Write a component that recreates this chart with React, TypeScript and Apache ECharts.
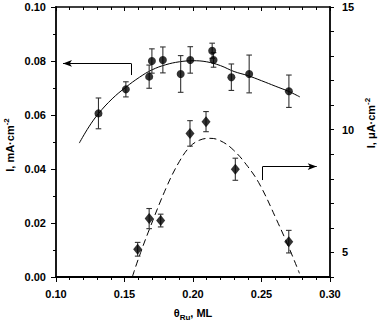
import React, { useEffect, useRef } from "react";
import * as echarts from "echarts";

// Upper series (left axis, mA/cm2): [theta, I, error]
const upperPoints: number[][] = [
  [0.131, 0.0606, 0.0057],
  [0.151, 0.0695, 0.0028],
  [0.168, 0.0742, 0.0043],
  [0.170, 0.0800, 0.0045],
  [0.178, 0.0804, 0.0048],
  [0.191, 0.0752, 0.0068],
  [0.198, 0.0804, 0.0049],
  [0.214, 0.0838, 0.0028],
  [0.215, 0.0804, 0.0027],
  [0.228, 0.0740, 0.0049],
  [0.241, 0.0752, 0.0070],
  [0.270, 0.0688, 0.0060],
];

// Upper fitted curve
const upperFit: number[][] = [
  [0.117, 0.0496], [0.124, 0.0556], [0.131, 0.0605], [0.141, 0.0660],
  [0.151, 0.0703], [0.161, 0.0740], [0.170, 0.0767], [0.180, 0.0786],
  [0.190, 0.0797], [0.200, 0.0801], [0.210, 0.0797], [0.220, 0.0783],
  [0.230, 0.0761], [0.240, 0.0746], [0.250, 0.0727], [0.260, 0.0707],
  [0.270, 0.0687], [0.278, 0.0667],
];

// Lower series (right axis, uA/cm2): [theta, I, error]
const lowerPoints: number[][] = [
  [0.1596, 5.13, 0.28],
  [0.168, 6.38, 0.41],
  [0.1764, 6.30, 0.26],
  [0.1978, 9.85, 0.52],
  [0.2095, 10.33, 0.41],
  [0.2309, 8.39, 0.45],
  [0.2699, 5.44, 0.46],
];

// Lower dashed fitted curve
const lowerFit: number[][] = [
  [0.1557, 4.0], [0.160, 4.72], [0.168, 5.92], [0.1808, 7.68],
  [0.190, 8.70], [0.1978, 9.31], [0.205, 9.58], [0.2124, 9.65],
  [0.220, 9.55], [0.2294, 9.18], [0.240, 8.50], [0.2489, 7.75],
  [0.2611, 6.32], [0.270, 5.20], [0.2777, 4.15],
];

// Arrow annotations (data coordinates)
const leftArrow = { x0: 0.1547, yDrop: 0.0748, y: 0.0791, xTip: 0.1051 };
const rightArrow = { x0: 0.2509, yDrop: 7.95, y: 8.5, xTip: 0.2903 };

const xTicks = { min: 0.1, max: 0.3, interval: 0.05 };
const leftTicks = { min: 0, max: 0.1, interval: 0.02 };
const rightTicks = { min: 4, max: 15, interval: 1, labeled: [5, 10, 15] };

const FONT = "'Liberation Sans', Arial, sans-serif";

function errorBarSeries(data: number[][], yAxisIndex: number) {
  return {
    type: "custom",
    xAxisIndex: 0,
    yAxisIndex,
    data,
    z: 2,
    silent: true,
    encode: { x: 0, y: 1 },
    renderItem: (_params: any, api: any) => {
      const x = api.value(0);
      const y = api.value(1);
      const e = api.value(2);
      const top = api.coord([x, y + e]);
      const bot = api.coord([x, y - e]);
      const hw = 2.8;
      const style = { stroke: "#333", lineWidth: 1.1 };
      return {
        type: "group",
        children: [
          { type: "line", shape: { x1: top[0], y1: top[1], x2: bot[0], y2: bot[1] }, style },
          { type: "line", shape: { x1: top[0] - hw, y1: top[1], x2: top[0] + hw, y2: top[1] }, style },
          { type: "line", shape: { x1: bot[0] - hw, y1: bot[1], x2: bot[0] + hw, y2: bot[1] }, style },
        ],
      };
    },
  };
}

export default function App() {
  const ref = useRef<HTMLDivElement>(null);
  useEffect(() => {
    document.body.style.margin = "0";
    const chart = echarts.init(ref.current!, null, { renderer: "svg" });
    const axisLineStyle = { color: "#000", width: 1.8 };
    const labelStyle = { color: "#000", fontFamily: FONT, fontWeight: "bold", fontSize: 11 };
    const nameRich = {
      m: { fontFamily: FONT, fontWeight: "bold", fontSize: 11, lineHeight: 16, verticalAlign: "middle", fill: "#000" },
      sup: { fontFamily: FONT, fontWeight: "bold", fontSize: 8, lineHeight: 8, verticalAlign: "top", fill: "#000" },
      sub: { fontFamily: FONT, fontWeight: "bold", fontSize: 8, lineHeight: 8, verticalAlign: "bottom", fill: "#000" },
    };
    chart.setOption({
      animation: false,
      backgroundColor: "#fff",
      grid: { left: 56, right: 50, top: 7, bottom: 47, containLabel: false },
      xAxis: [
        {
          type: "value",
          position: "bottom",
          min: xTicks.min,
          max: xTicks.max,
          interval: xTicks.interval,
          axisLine: { lineStyle: axisLineStyle },
          axisTick: { inside: false, length: 5, lineStyle: { color: "#000", width: 1 } },
          minorTick: { show: true, splitNumber: 5, length: 3, lineStyle: { color: "#000", width: 1 } },
          axisLabel: { ...labelStyle, margin: 11, formatter: (v: number) => v.toFixed(2) },
          splitLine: { show: false },
        },
        {
          type: "value",
          position: "top",
          min: xTicks.min,
          max: xTicks.max,
          interval: xTicks.interval,
          axisLine: { lineStyle: { color: "#000", width: 1.5 } },
          axisTick: { inside: true, length: 4, lineStyle: { color: "#000", width: 1 } },
          minorTick: { show: true, splitNumber: 5, length: 3, lineStyle: { color: "#000", width: 1 } },
          axisLabel: { show: false },
          splitLine: { show: false },
        },
      ],
      yAxis: [
        {
          type: "value",
          position: "left",
          min: leftTicks.min,
          max: leftTicks.max,
          interval: leftTicks.interval,
          axisLine: { show: true, lineStyle: axisLineStyle },
          axisTick: { show: true, inside: false, length: 5, lineStyle: { color: "#000", width: 1 } },
          minorTick: { show: true, splitNumber: 2, length: 3, lineStyle: { color: "#000", width: 1 } },
          axisLabel: { ...labelStyle, margin: 10, formatter: (v: number) => v.toFixed(2) },
          splitLine: { show: false },
        },
        {
          type: "value",
          position: "right",
          min: rightTicks.min,
          max: rightTicks.max,
          interval: rightTicks.interval,
          axisLine: { show: true, lineStyle: axisLineStyle },
          axisTick: { show: true, inside: false, length: 4, lineStyle: { color: "#000", width: 1 } },
          axisLabel: {
            ...labelStyle,
            margin: 12,
            formatter: (v: number) => (rightTicks.labeled.includes(Math.round(v)) ? String(Math.round(v)) : ""),
          },
          splitLine: { show: false },
        },
      ],
      series: [
        {
          type: "line",
          xAxisIndex: 0,
          yAxisIndex: 0,
          data: upperFit,
          smooth: 0.4,
          showSymbol: false,
          symbol: "none",
          lineStyle: { color: "#000", width: 1 },
          z: 1,
          silent: true,
          markLine: {
            silent: true,
            animation: false,
            label: { show: false },
            lineStyle: { color: "#000", width: 1, type: "solid" },
            symbol: ["none", "none"],
            data: [
              [
                { coord: [leftArrow.x0, leftArrow.yDrop], symbol: "none" },
                { coord: [leftArrow.x0, leftArrow.y], symbol: "none" },
              ],
              [
                { coord: [leftArrow.x0, leftArrow.y], symbol: "none" },
                { coord: [leftArrow.xTip, leftArrow.y], symbol: "arrow", symbolSize: [5, 9] },
              ],
            ],
          },
        },
        errorBarSeries(upperPoints, 0),
        {
          type: "scatter",
          xAxisIndex: 0,
          yAxisIndex: 0,
          data: upperPoints.map((p) => [p[0], p[1]]),
          symbol: "circle",
          symbolSize: 8,
          itemStyle: { color: "#000" },
          z: 3,
          silent: true,
        },
        {
          type: "line",
          xAxisIndex: 0,
          yAxisIndex: 1,
          data: lowerFit,
          smooth: 0.4,
          showSymbol: false,
          symbol: "none",
          lineStyle: { color: "#000", width: 1, type: [7, 4] },
          z: 1,
          silent: true,
          markLine: {
            silent: true,
            animation: false,
            label: { show: false },
            lineStyle: { color: "#000", width: 1, type: "solid" },
            symbol: ["none", "none"],
            data: [
              [
                { coord: [rightArrow.x0, rightArrow.yDrop], symbol: "none" },
                { coord: [rightArrow.x0, rightArrow.y], symbol: "none" },
              ],
              [
                { coord: [rightArrow.x0, rightArrow.y], symbol: "none" },
                { coord: [rightArrow.xTip, rightArrow.y], symbol: "arrow", symbolSize: [5, 9] },
              ],
            ],
          },
        },
        errorBarSeries(lowerPoints, 1),
        {
          type: "scatter",
          xAxisIndex: 0,
          yAxisIndex: 1,
          data: lowerPoints.map((p) => [p[0], p[1]]),
          symbol: "diamond",
          symbolSize: [9, 11],
          itemStyle: { color: "#000" },
          z: 3,
          silent: true,
        },
      ],
      graphic: [
        {
          type: "text",
          x: 10,
          y: 145,
          rotation: Math.PI / 2,
          style: {
            text: "{m|I, mA·cm}{sup|-2}",
            rich: nameRich,
            align: "center",
            verticalAlign: "middle",
          },
        },
        {
          type: "text",
          x: 371,
          y: 123,
          rotation: Math.PI / 2,
          style: {
            text: "{m|I, μA·cm}{sup|-2}",
            rich: nameRich,
            align: "center",
            verticalAlign: "middle",
          },
        },
        {
          type: "text",
          x: 193,
          y: 313,
          style: {
            text: "{m|θ}{sub|Ru}{m|, ML}",
            rich: nameRich,
            align: "center",
            verticalAlign: "middle",
          },
        },
      ],
    });
    return () => chart.dispose();
  }, []);
  return <div ref={ref} style={{ position: "fixed", left: 0, top: 0, width: 380, height: 324 }} />;
}
